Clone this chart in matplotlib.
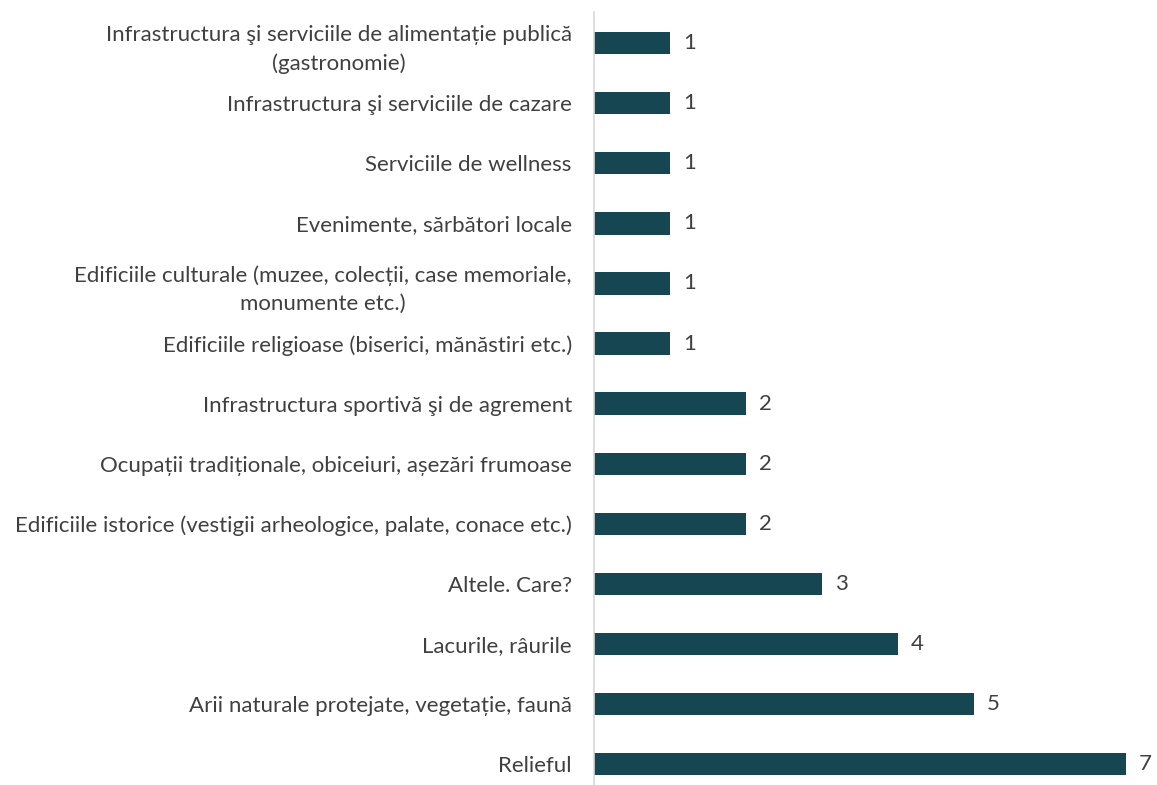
import numpy as np
import matplotlib.pyplot as plt

plt.rcParams['font.family'] = ['Lato', 'DejaVu Sans']

categories = [
    'Relieful',
    'Arii naturale protejate, vegetație, faună',
    'Lacurile, râurile',
    'Altele. Care?',
    'Edificiile istorice (vestigii arheologice, palate, conace etc.)',
    'Ocupații tradiționale, obiceiuri, așezări frumoase',
    'Infrastructura sportivă şi de agrement',
    'Edificiile religioase (biserici, mănăstiri etc.)',
    'Edificiile culturale (muzee, colecții, case memoriale,\nmonumente etc.)',
    'Evenimente, sărbători locale',
    'Serviciile de wellness',
    'Infrastructura şi serviciile de cazare',
    'Infrastructura şi serviciile de alimentație publică\n(gastronomie)',
]
values = [7, 5, 4, 3, 2, 2, 2, 1, 1, 1, 1, 1, 1]

bar_color = '#174653'
text_color = '#404040'

fig = plt.figure(figsize=(11.57, 7.85), dpi=100)
ax = fig.add_axes([594 / 1157, 0, 1 - 594 / 1157, 1 - 12 / 785])

y = np.arange(len(categories))
ax.barh(y, values, height=0.37, color=bar_color)

# value labels just past the end of each bar
for yi, v in zip(y, values):
    ax.text(v + 0.17, yi, str(v), va='center', ha='left', fontsize=16, color=text_color)

ax.set_yticks(y)
ax.set_yticklabels(categories, fontsize=16, color=text_color, ha='right',
                   multialignment='center', linespacing=1.5)
ax.tick_params(axis='y', length=0, pad=16)
ax.set_xticks([])
ax.set_xlim(0, (1157 - 594) / 76)
ax.set_ylim(-0.35, 12.52)

for side in ['top', 'right', 'bottom']:
    ax.spines[side].set_visible(False)
ax.spines['left'].set_color('#d9d9d9')
ax.spines['left'].set_linewidth(1.2)

fig.savefig('out.png', dpi=100)
